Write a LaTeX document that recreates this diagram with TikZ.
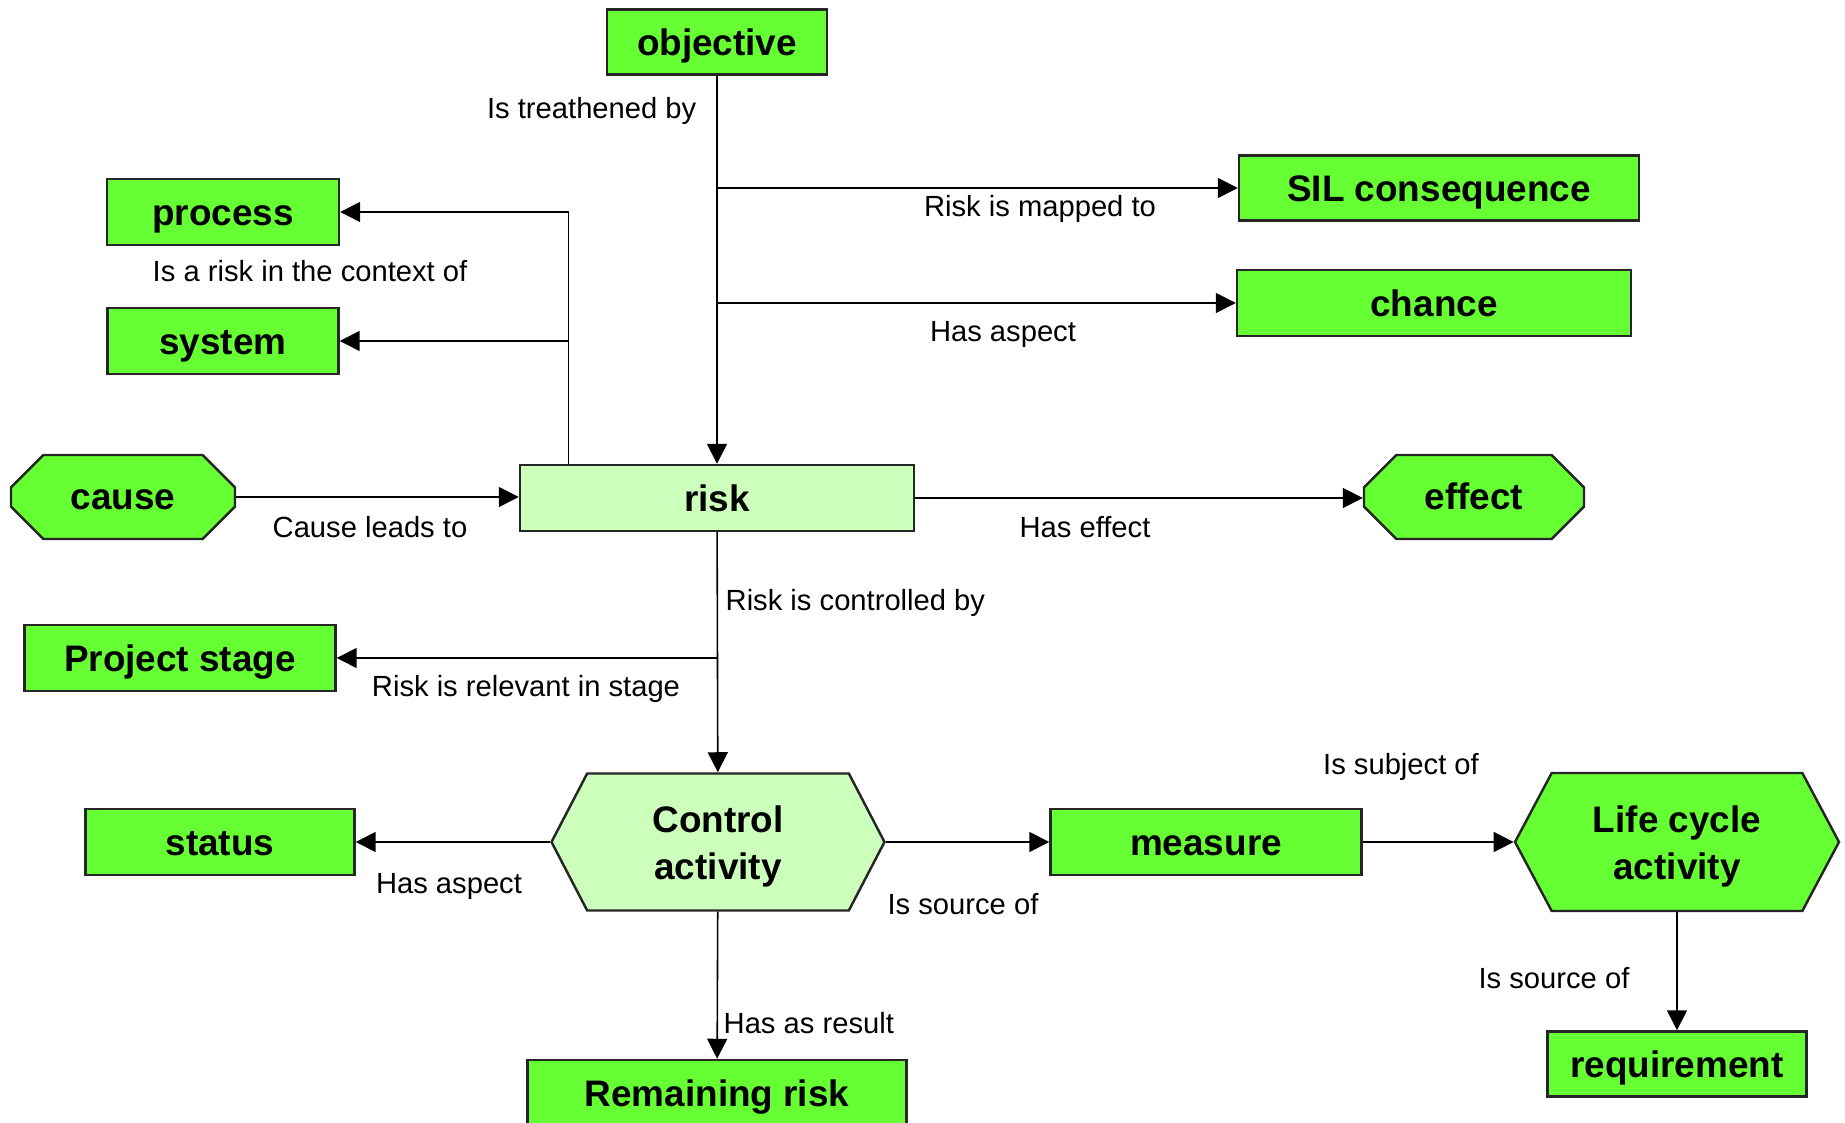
\documentclass[tikz,border=0pt]{standalone}
\usepackage{fontspec}
\setsansfont{Liberation Sans}
\usepackage{xcolor}
\usepackage{tikz}
\usetikzlibrary{positioning, arrows.meta, calc, shapes.misc, shapes.symbols}

\definecolor{boxgreen}{RGB}{102,255,51}
\definecolor{riskgreen}{RGB}{204,255,187}

\begin{document}
\begin{tikzpicture}[
  x=0.1mm, y=-0.1mm,
  shapebase/.style={draw=black!85, line width=0.7pt, fill=boxgreen, inner sep=0pt,
                    align=center, font=\sffamily\bfseries\fontsize{10.5}{13.3}\selectfont},
  concept/.style={shapebase, text height=9.8pt, text depth=2.2pt},
  octa/.style={shapebase, text height=7pt, text depth=0pt, chamfered rectangle,
               chamfered rectangle xsep=2mm, chamfered rectangle ysep=2mm},
  hexa/.style={shapebase, text height=23.4pt, signal, signal to=east and west,
               signal pointer angle=125},
  rel/.style={inner sep=0pt, font=\sffamily\fontsize{8.3}{10}\selectfont},
  arr/.style={-{Triangle[length=2mm, width=2mm]}, line width=0.45pt},
]
\useasboundingbox (0,0) rectangle (1845,1123);

\node[concept, minimum width=22mm, minimum height=6.5mm] (objective) at (717,42) {objective};
\node[concept, minimum width=23.2mm, minimum height=6.6mm] (process) at (223,212) {process};
\node[concept, minimum width=23.1mm, minimum height=6.6mm] (system) at (223,341) {system};
\node[concept, minimum width=40mm, minimum height=6.5mm] (sil) at (1439,188) {SIL consequence};
\node[concept, minimum width=39.4mm, minimum height=6.6mm] (chance) at (1434,303) {chance};
\node[octa, minimum width=22.4mm, minimum height=8.4mm] (cause) at (123,497) {cause};
\node[concept, fill=riskgreen, minimum width=39.4mm, minimum height=6.6mm] (risk) at (717,498) {risk};
\node[octa, minimum width=22mm, minimum height=8.4mm] (effect) at (1474,497) {effect};
\node[concept, minimum width=31.1mm, minimum height=6.6mm] (stage) at (180,658) {Project stage};
\node[hexa, fill=riskgreen, minimum width=33.3mm, minimum height=13.7mm] (control) at (718,842) {Control\\activity};
\node[concept, minimum width=26.9mm, minimum height=6.6mm] (status) at (220,842) {status};
\node[concept, minimum width=31.1mm, minimum height=6.6mm] (measure) at (1206,842) {measure};
\node[hexa, signal pointer angle=124, minimum width=32.4mm, minimum height=13.8mm] (lca) at (1677,842) {Life cycle\\activity};
\node[concept, minimum width=37.9mm, minimum height=6.6mm] (remaining) at (717,1093) {Remaining risk};
\node[concept, minimum width=25.9mm, minimum height=6.5mm] (requirement) at (1677,1064) {requirement};

\coordinate (ctx) at ($(risk.north west)!0.125!(risk.north east)$);
\draw[arr] (objective) -- (risk);
\draw[arr] (objective.south |- sil.west) -- (sil.west);
\draw[arr] (objective.south |- chance.west) -- (chance.west);
\draw[arr] (ctx) |- (process.east);
\draw[arr] (ctx) |- (system.east);
\draw[arr] (cause.east) -- (cause.east -| risk.west);
\draw[arr] (risk.east) -- (risk.east -| effect.west);
\draw[arr] (risk) -- (control);
\draw[arr] (risk.south |- stage.east) -- (stage.east);
\draw[arr] (control.west) -- (status.east);
\draw[arr] (control.east) -- (measure.west);
\draw[arr] (measure.east) -- (lca.west);
\draw[arr] (control) -- (remaining);
\draw[arr] (lca) -- (requirement);

\node[rel, anchor=east] (threat) at (697,111) {Is treathened by};
\node[rel] (context) at (310,271) {Is a risk in the context of};
\node[rel] (mapped) at (1040,209) {Risk is mapped to};
\node[rel] (aspect1) at (1003,335) {Has aspect};
\node[rel] (leads) at (370,527) {Cause leads to};
\node[rel] (haseffect) at (1085,527) {Has effect};
\node[rel, anchor=west] (controlled) at (725,603) {Risk is controlled by};
\node[rel] (relevant) at (526,689) {Risk is relevant in stage};
\node[rel] (aspect2) at (449,886) {Has aspect};
\node[rel] (source1) at (963,904) {Is source of};
\node[rel] (subject) at (1401,767) {Is subject of};
\node[rel, anchor=west] (result) at (723,1023) {Has as result};
\node[rel] (source2) at (1554,978) {Is source of};
\end{tikzpicture}
\end{document}
